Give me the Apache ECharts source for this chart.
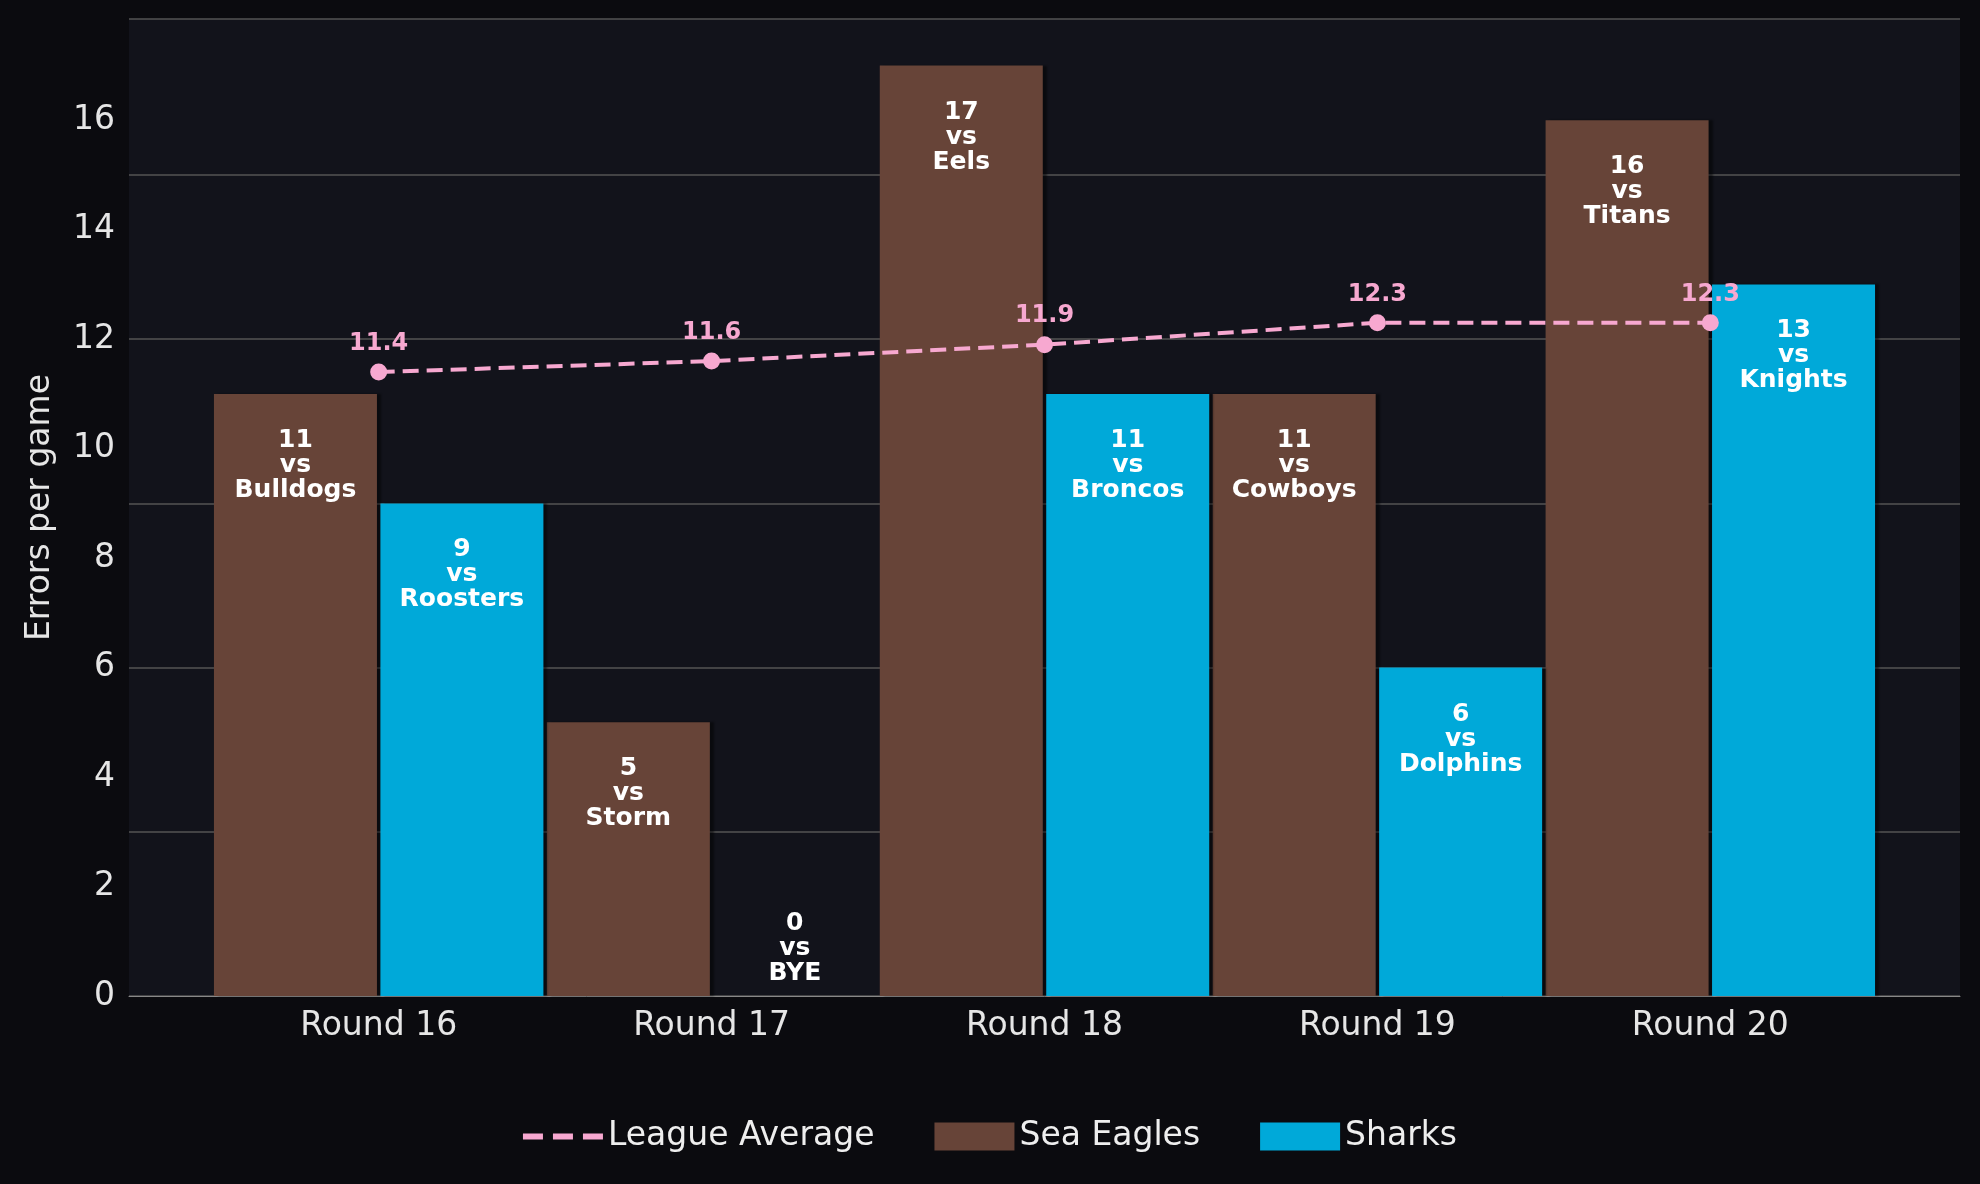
<!DOCTYPE html>
<html>
<head>
<meta charset="utf-8">
<script src="https://cdn.jsdelivr.net/npm/echarts@6/dist/echarts.min.js"></script>
<style>html,body{margin:0;background:#0b0b0f}#chart{width:1980px;height:1184px}</style>
</head>
<body>
<div id="chart"></div>
<script>
const rounds = ['Round 16', 'Round 17', 'Round 18', 'Round 19', 'Round 20'];
const seaEagles = [11, 5, 17, 11, 16];
const seaEaglesOpp = ['Bulldogs', 'Storm', 'Eels', 'Cowboys', 'Titans'];
const sharks = [9, 0, 11, 6, 13];
const sharksOpp = ['Roosters', 'BYE', 'Broncos', 'Dolphins', 'Knights'];
const leagueAvg = [11.4, 11.6, 11.9, 12.3, 12.3];
const yTicks = [0, 2, 4, 6, 8, 10, 12, 14, 16];

let myChart = echarts.init(document.getElementById('chart'));

function barData(vals, opps, shift) {
    return vals.map(function (v, i) {
        let item = { value: [i + shift, v], opp: opps[i] };
        if (v === 0) {
            item.label = { position: 'top', distance: 10 };
        }
        return item;
    });
}

let barLabel = {
    show: true,
    position: 'insideTop',
    distance: 34,
    color: '#ffffff',
    fontWeight: 'bold',
    fontSize: 25,
    lineHeight: 25,
    fontFamily: 'DejaVu Sans',
    formatter: function (p) {
        return p.value[1] + '\nvs\n' + p.data.opp;
    }
};

let option = {
    backgroundColor: '#0b0b0f',
    textStyle: { fontFamily: 'DejaVu Sans' },
    grid: {
        left: 129, right: 20, top: 19, bottom: 188,
        show: true, backgroundColor: '#12131b', borderWidth: 0
    },
    legend: {
        bottom: 26,
        itemGap: 60,
        itemWidth: 80,
        itemHeight: 28,
        textStyle: { color: '#eeeeee', fontSize: 33 },
        data: [
            { name: 'League Average', icon: 'path://M0,0H10V3H0Z M15,0H25V3H15Z M30,0H40V3H30Z' },
            { name: 'Sea Eagles', icon: 'rect' },
            { name: 'Sharks', icon: 'rect' }
        ]
    },
    xAxis: {
        type: 'value',
        min: -0.75,
        max: 4.75,
        splitLine: { show: false },
        axisLine: { show: true, lineStyle: { color: '#888888' } },
        axisTick: { show: false },
        axisLabel: {
            customValues: [0, 1, 2, 3, 4],
            color: '#e6e6e6',
            fontSize: 33,
            margin: 14,
            formatter: function (v) { return rounds[Math.round(v)]; }
        }
    },
    yAxis: {
        type: 'value',
        min: 0,
        max: 17.85,
        name: 'Errors per game',
        nameLocation: 'middle',
        nameGap: 72,
        nameTextStyle: { color: '#e6e6e6', fontSize: 33 },
        axisLine: { show: false },
        axisTick: { show: false },
        splitLine: { lineStyle: { color: '#555555', width: 1.5 } },
        axisLabel: {
            customValues: yTicks,
            color: '#e6e6e6',
            fontSize: 33,
            margin: 14
        }
    },
    series: [
        {
            name: 'Sea Eagles',
            type: 'bar',
            barWidth: 163,
            barGap: '-100%',
            color: '#674438',
            itemStyle: { shadowColor: 'rgba(0,0,0,0.45)', shadowOffsetX: 4, shadowBlur: 2 },
            label: barLabel,
            data: barData(seaEagles, seaEaglesOpp, -0.25),
            z: 2
        },
        {
            name: 'Sharks',
            type: 'bar',
            barWidth: 163,
            barGap: '-100%',
            color: '#00a9d9',
            itemStyle: { shadowColor: 'rgba(0,0,0,0.45)', shadowOffsetX: 4, shadowBlur: 2 },
            label: barLabel,
            data: barData(sharks, sharksOpp, 0.25),
            z: 2
        },
        {
            name: 'League Average',
            type: 'line',
            color: '#f7a8d0',
            symbol: 'circle',
            symbolSize: 17,
            lineStyle: { type: 'dashed', width: 4, color: '#f7a8d0' },
            label: {
                show: true,
                position: 'top',
                distance: 8,
                color: '#f7a8d0',
                fontWeight: 'bold',
                fontSize: 24,
                formatter: function (p) { return p.value[1].toFixed(1); }
            },
            data: leagueAvg.map(function (v, i) { return [i, v]; }),
            z: 5
        }
    ]
};

myChart.setOption(option);
</script>
</body>
</html>
